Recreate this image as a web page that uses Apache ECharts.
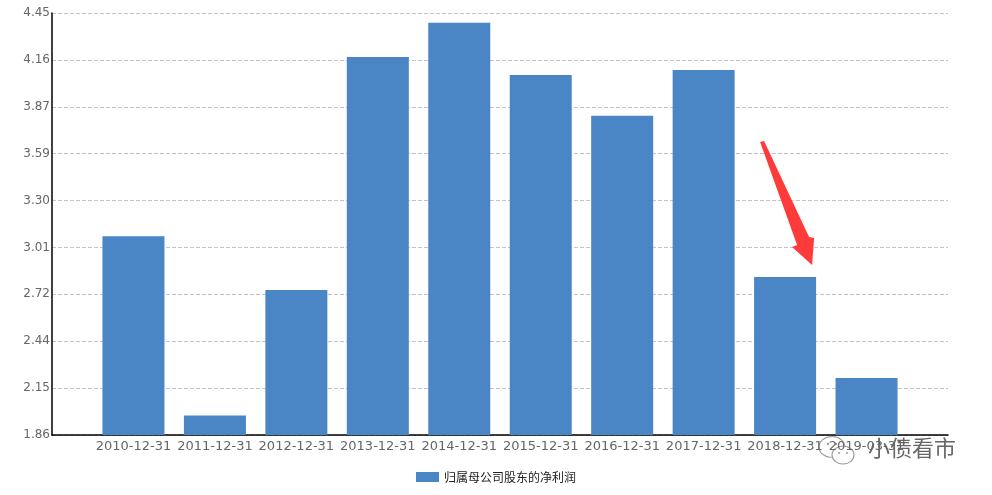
<!DOCTYPE html>
<html>
<head>
<meta charset="utf-8">
<script src="https://cdn.jsdelivr.net/npm/echarts@6/dist/echarts.min.js"></script>
<style>html,body{margin:0;padding:0;background:#fff}#c{width:992px;height:495px}</style>
</head>
<body>
<div id="c"></div>
<script>
var categories = ['2010-12-31','2011-12-31','2012-12-31','2013-12-31','2014-12-31','2015-12-31','2016-12-31','2017-12-31','2018-12-31','2019-03-31'];
var netProfit = [3.08, 1.98, 2.75, 4.18, 4.39, 4.07, 3.82, 4.10, 2.83, 2.21];
var yTickLabels = ['1.86','2.15','2.44','2.72','3.01','3.30','3.59','3.87','4.16','4.45'];
var seriesName = '归属母公司股东的净利润';
var yMin = 1.86, yMax = 4.45;

var steps = yTickLabels.length - 1;
var stepSize = (yMax - yMin) / steps;
var padCats = [''].concat(categories).concat(['']);
var padData = [null].concat(netProfit.map(function (v) { return (v - yMin) / stepSize; })).concat([null]);

var chart = echarts.init(document.getElementById('c'));
chart.setOption({
  animation: false,
  grid: { left: 52, right: 44, top: 13, bottom: 60 },
  legend: {
    data: [seriesName],
    top: 466,
    left: 'center',
    icon: 'rect',
    itemWidth: 23,
    itemHeight: 10,
    itemGap: 5,
    textStyle: { fontSize: 12, color: '#222', fontFamily: 'Noto Sans CJK SC' }
  },
  xAxis: {
    type: 'category',
    boundaryGap: false,
    data: padCats,
    axisLine: { lineStyle: { color: '#000', width: 1.5 } },
    axisTick: { show: false },
    axisLabel: { interval: 0, fontSize: 13, color: '#666', margin: 5, fontFamily: 'DejaVu Sans' },
    splitLine: { show: false }
  },
  yAxis: {
    type: 'value',
    min: 0,
    max: steps,
    interval: 1,
    axisLine: { show: true, lineStyle: { color: '#000', width: 1.5 } },
    axisTick: { show: false },
    axisLabel: {
      fontSize: 12, color: '#666', margin: 2, fontFamily: 'DejaVu Sans',
      formatter: function (v) { return yTickLabels[Math.round(v)]; }
    },
    splitLine: { show: true, lineStyle: { color: '#c4c4c4', type: [4, 2], width: 1 } }
  },
  series: [{
    name: seriesName,
    type: 'bar',
    data: padData,
    barWidth: 62,
    itemStyle: { color: '#4a86c5' }
  }]
});

// Annotation arrow pointing at the 2018 bar, placed relative to that bar's top
var idx = categories.indexOf('2018-12-31') + 1;
var p = chart.convertToPixel({ gridIndex: 0 }, [idx, padData[idx]]);
var tx = p[0] + 27, ty = p[1] - 12;
var arrowPts = [[-52, -123], [-48, -124], [-3, -28], [2, -27], [0, 0], [-20, -18], [-15, -20]];
chart.setOption({
  graphic: [
    {
      type: 'polygon',
      shape: { points: arrowPts.map(function (q) { return [tx + q[0], ty + q[1]]; }) },
      style: { fill: '#fe3b3b' },
      z: 100
    },
    {
      type: 'group',
      z: 100,
      children: [
        { type: 'ellipse', shape: { cx: 832, cy: 447, rx: 13, ry: 10.5 },
          style: { fill: 'rgba(255,255,255,0.95)', stroke: '#999', lineWidth: 1.1, shadowBlur: 6, shadowColor: '#fff' } },
        { type: 'ellipse', shape: { cx: 843, cy: 455, rx: 11, ry: 9 },
          style: { fill: 'rgba(255,255,255,0.95)', stroke: '#999', lineWidth: 1.1, shadowBlur: 6, shadowColor: '#fff' } },
        { type: 'circle', shape: { cx: 828, cy: 444, r: 1.2 }, style: { fill: '#999' } },
        { type: 'circle', shape: { cx: 836, cy: 444, r: 1.2 }, style: { fill: '#999' } },
        { type: 'circle', shape: { cx: 839, cy: 453, r: 1 }, style: { fill: '#999' } },
        { type: 'circle', shape: { cx: 847, cy: 453, r: 1 }, style: { fill: '#999' } },
        { type: 'text', left: 868, top: 437,
          style: { text: '小债看市', font: '22px "Noto Sans CJK SC"', fill: '#666', shadowBlur: 6, shadowColor: '#fff' } }
      ]
    }
  ]
});
</script>
</body>
</html>
